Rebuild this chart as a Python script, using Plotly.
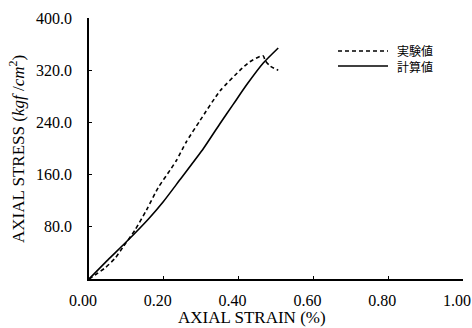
import plotly.graph_objects as go

# Experimental (実験値)
exp_strain = [0.0, 0.016, 0.043, 0.070, 0.091, 0.123, 0.154, 0.185, 0.217, 0.234, 0.260, 0.297,
              0.350, 0.404, 0.430, 0.457, 0.466, 0.471, 0.485, 0.506]
exp_stress = [0.0, 6, 17, 32, 49, 75, 106, 140, 167, 182, 210, 243,
              288, 320, 333, 341, 342, 335, 326, 320]

# Calculated (計算値)
calc_strain = [0.0, 0.050, 0.100, 0.159, 0.198, 0.243, 0.306, 0.350, 0.386, 0.422, 0.466, 0.506]
calc_stress = [0.0, 29, 57, 92, 118, 152, 200, 238, 268, 298, 331, 354]

x_ticks = [0.0, 0.2, 0.4, 0.6, 0.8, 1.0]
x_tick_text = ["0.00", "0.20", "0.40", "0.60", "0.80", "1.00"]
y_ticks = [80, 160, 240, 320, 400]
y_tick_text = ["80.0", "160.0", "240.0", "320.0", "400.0"]

legend_names = ["実験値", "計算値"]
x_title = "AXIAL STRAIN (%)"
y_title = "AXIAL STRESS (<i>kgf</i> /<i>cm</i><sup>2</sup>)"

serif = "Liberation Serif"
cjk = "Noto Sans CJK JP"

W, H = 472, 328
L, R, T, B = 89, 9, 18, 49
PW, PH = W - L - R, H - T - B


def px_x(p):
    return (p - L) / PW


def px_y(p):
    return (H - B - p) / PH


fig = go.Figure()
fig.add_trace(go.Scatter(x=exp_strain, y=exp_stress, mode="lines", name=legend_names[0],
                         line=dict(color="black", width=1.6, dash="4px,3px", shape="spline", smoothing=0.6)))
fig.add_trace(go.Scatter(x=calc_strain, y=calc_stress, mode="lines", name=legend_names[1],
                         line=dict(color="black", width=1.6, shape="spline", smoothing=0.6)))

shapes = [
    dict(type="line", xref="paper", yref="paper", x0=px_x(338), x1=px_x(388), y0=px_y(51), y1=px_y(51),
         line=dict(color="black", width=1.6, dash="4px,3px")),
    dict(type="line", xref="paper", yref="paper", x0=px_x(338), x1=px_x(388), y0=px_y(66), y1=px_y(66),
         line=dict(color="black", width=1.6)),
]
annotations = [
    dict(text="<br>".join(legend_names), xref="paper", yref="paper", x=px_x(395), y=px_y(58.5),
         xanchor="left", yanchor="middle", align="left", showarrow=False,
         font=dict(family=cjk, size=12, color="black")),
    dict(text=x_title, xref="paper", yref="paper", x=px_x(252), y=px_y(317), xanchor="center",
         yanchor="middle", showarrow=False, font=dict(family=serif, size=17, color="black")),
    dict(text=y_title, xref="paper", yref="paper", x=px_x(17), y=px_y(149), xanchor="center",
         yanchor="middle", showarrow=False, textangle=-90, font=dict(family=serif, size=17, color="black")),
]

fig.update_layout(
    width=W, height=H,
    margin=dict(l=L, r=R, t=T, b=B, autoexpand=False),
    paper_bgcolor="white", plot_bgcolor="white",
    font=dict(family=serif, color="black", size=16),
    showlegend=False,
    shapes=shapes,
    annotations=annotations,
    xaxis=dict(range=[0, 1.0], tickvals=x_ticks, ticktext=x_tick_text,
               showgrid=False, zeroline=False, showline=True, linecolor="black",
               linewidth=1.5, ticks="inside", ticklen=3, tickcolor="black",
               ticklabelstandoff=6, ticklabelshift=-6, ticklabeloverflow="allow",
               tickfont=dict(family=serif, size=16)),
    yaxis=dict(range=[0, 400], tickvals=y_ticks, ticktext=y_tick_text,
               showgrid=False, zeroline=False, showline=True, linecolor="black",
               linewidth=1.5, ticks="inside", ticklen=3, tickcolor="black",
               ticklabelstandoff=12, ticklabeloverflow="allow",
               tickfont=dict(family=serif, size=16)),
)

fig.write_html("out.html", config={"displayModeBar": False},
               post_script="document.body.style.margin='0';document.body.style.overflow='hidden';")
